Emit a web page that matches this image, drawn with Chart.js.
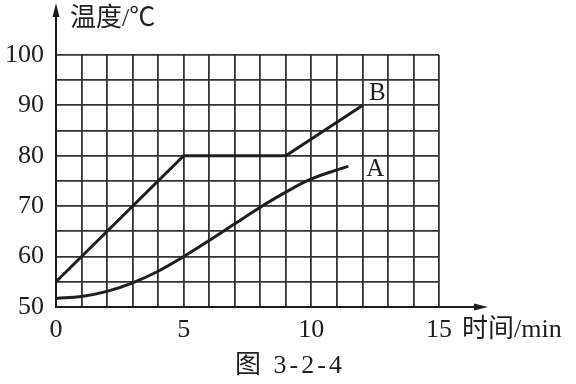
<!DOCTYPE html>
<html>
<head>
<meta charset="utf-8">
<script src="https://cdn.jsdelivr.net/npm/chart.js@4"></script>
<style>
  html, body { margin: 0; padding: 0; background: #fff; }
  #wrap { width: 576px; height: 384px; }
</style>
</head>
<body>
<div id="wrap"><canvas id="c" width="576" height="384"></canvas></div>
<script>
// Data
const timeA = [0, 1, 2, 3, 4, 5, 6, 7, 8, 9, 10, 11, 11.45];
const tempA = [51.7, 52.1, 53.1, 54.8, 57.1, 60, 63.2, 66.5, 69.8, 72.8, 75.4, 77.2, 77.9];
const timeB = [0, 5, 9, 12];
const tempB = [55, 80, 80, 90];
const xTickLabels = [0, 5, 10, 15];
const yTickLabels = [50, 60, 70, 80, 90, 100];
const seriesNames = ['A', 'B'];
const xTitle = '时间/min';
const yTitle = '温度/℃';
const caption = '图 3-2-4';

const INK = '#1e1e1e';
const GRID = '#333333';
const SERIF = "'Liberation Serif', 'Noto Sans CJK SC', serif";

const toPts = (xs, ys) => xs.map((x, i) => ({ x: x, y: ys[i] }));

const decor = {
  id: 'decor',
  afterDraw(chart) {
    const { ctx, chartArea: a, scales: { x, y } } = chart;
    ctx.save();
    ctx.strokeStyle = INK;
    ctx.fillStyle = INK;
    ctx.lineWidth = 2;
    const x0 = x.getPixelForValue(0);
    const y0 = y.getPixelForValue(50);
    // y axis extension + arrow
    ctx.beginPath();
    ctx.moveTo(x0, a.top);
    ctx.lineTo(x0, 14);
    ctx.stroke();
    ctx.beginPath();
    ctx.moveTo(x0, 3);
    ctx.lineTo(x0 - 3.5, 17);
    ctx.lineTo(x0 + 3.5, 17);
    ctx.closePath();
    ctx.fill();
    // x axis extension + arrow
    ctx.beginPath();
    ctx.moveTo(a.right, y0);
    ctx.lineTo(476, y0);
    ctx.stroke();
    ctx.beginPath();
    ctx.moveTo(488, y0);
    ctx.lineTo(474, y0 - 3.5);
    ctx.lineTo(474, y0 + 3.5);
    ctx.closePath();
    ctx.fill();

    // axis titles
    ctx.textBaseline = 'middle';
    ctx.textAlign = 'left';
    ctx.font = "26px " + SERIF;
    ctx.fillText(yTitle, x0 + 14, 19);
    ctx.fillText(xTitle, 462, y0 + 23);

    // series labels at line ends
    ctx.font = "25px " + SERIF;
    ctx.textAlign = 'center';
    const bx = x.getPixelForValue(timeB[timeB.length - 1]);
    const by = y.getPixelForValue(tempB[tempB.length - 1]);
    ctx.fillText(seriesNames[1], bx + 15, by - 12);
    const ax = x.getPixelForValue(timeA[timeA.length - 1]);
    const ay = y.getPixelForValue(tempA[tempA.length - 1]);
    ctx.fillText(seriesNames[0], ax + 27, ay + 3);

    // caption
    ctx.font = "26px " + SERIF;
    ctx.letterSpacing = '3px';
    ctx.fillText(caption, 290, 366);
    ctx.restore();
  }
};

new Chart(document.getElementById('c'), {
  type: 'line',
  data: {
    datasets: [
      {
        label: seriesNames[0],
        data: toPts(timeA, tempA),
        borderColor: INK,
        borderWidth: 3,
        pointRadius: 0,
        tension: 0.4,
        fill: false
      },
      {
        label: seriesNames[1],
        data: toPts(timeB, tempB),
        borderColor: INK,
        borderWidth: 3,
        pointRadius: 0,
        tension: 0,
        fill: false
      }
    ]
  },
  plugins: [decor],
  options: {
    responsive: false,
    animation: false,
    events: [],
    layout: { padding: { top: 55, right: 137, left: 0, bottom: 0 } },
    plugins: { legend: { display: false }, tooltip: { enabled: false } },
    scales: {
      x: {
        type: 'linear',
        min: 0,
        max: 15,
        afterFit: (s) => { s.height = 77; },
        ticks: {
          stepSize: 1,
          autoSkip: false,
          maxRotation: 0,
          padding: 8,
          color: INK,
          font: { family: SERIF, size: 26 },
          callback: (v) => (xTickLabels.includes(v) ? String(v) : '')
        },
        grid: { color: GRID, lineWidth: 1.8, drawTicks: false },
        border: { color: INK, width: 2 }
      },
      y: {
        type: 'linear',
        min: 50,
        max: 100,
        afterFit: (s) => { s.width = 56; },
        ticks: {
          stepSize: 5,
          autoSkip: false,
          padding: 12,
          color: INK,
          font: { family: SERIF, size: 26 },
          callback: (v) => (yTickLabels.includes(v) ? String(v) : '')
        },
        grid: { color: GRID, lineWidth: 1.8, drawTicks: false },
        border: { color: INK, width: 2 }
      }
    }
  }
});
</script>
</body>
</html>
